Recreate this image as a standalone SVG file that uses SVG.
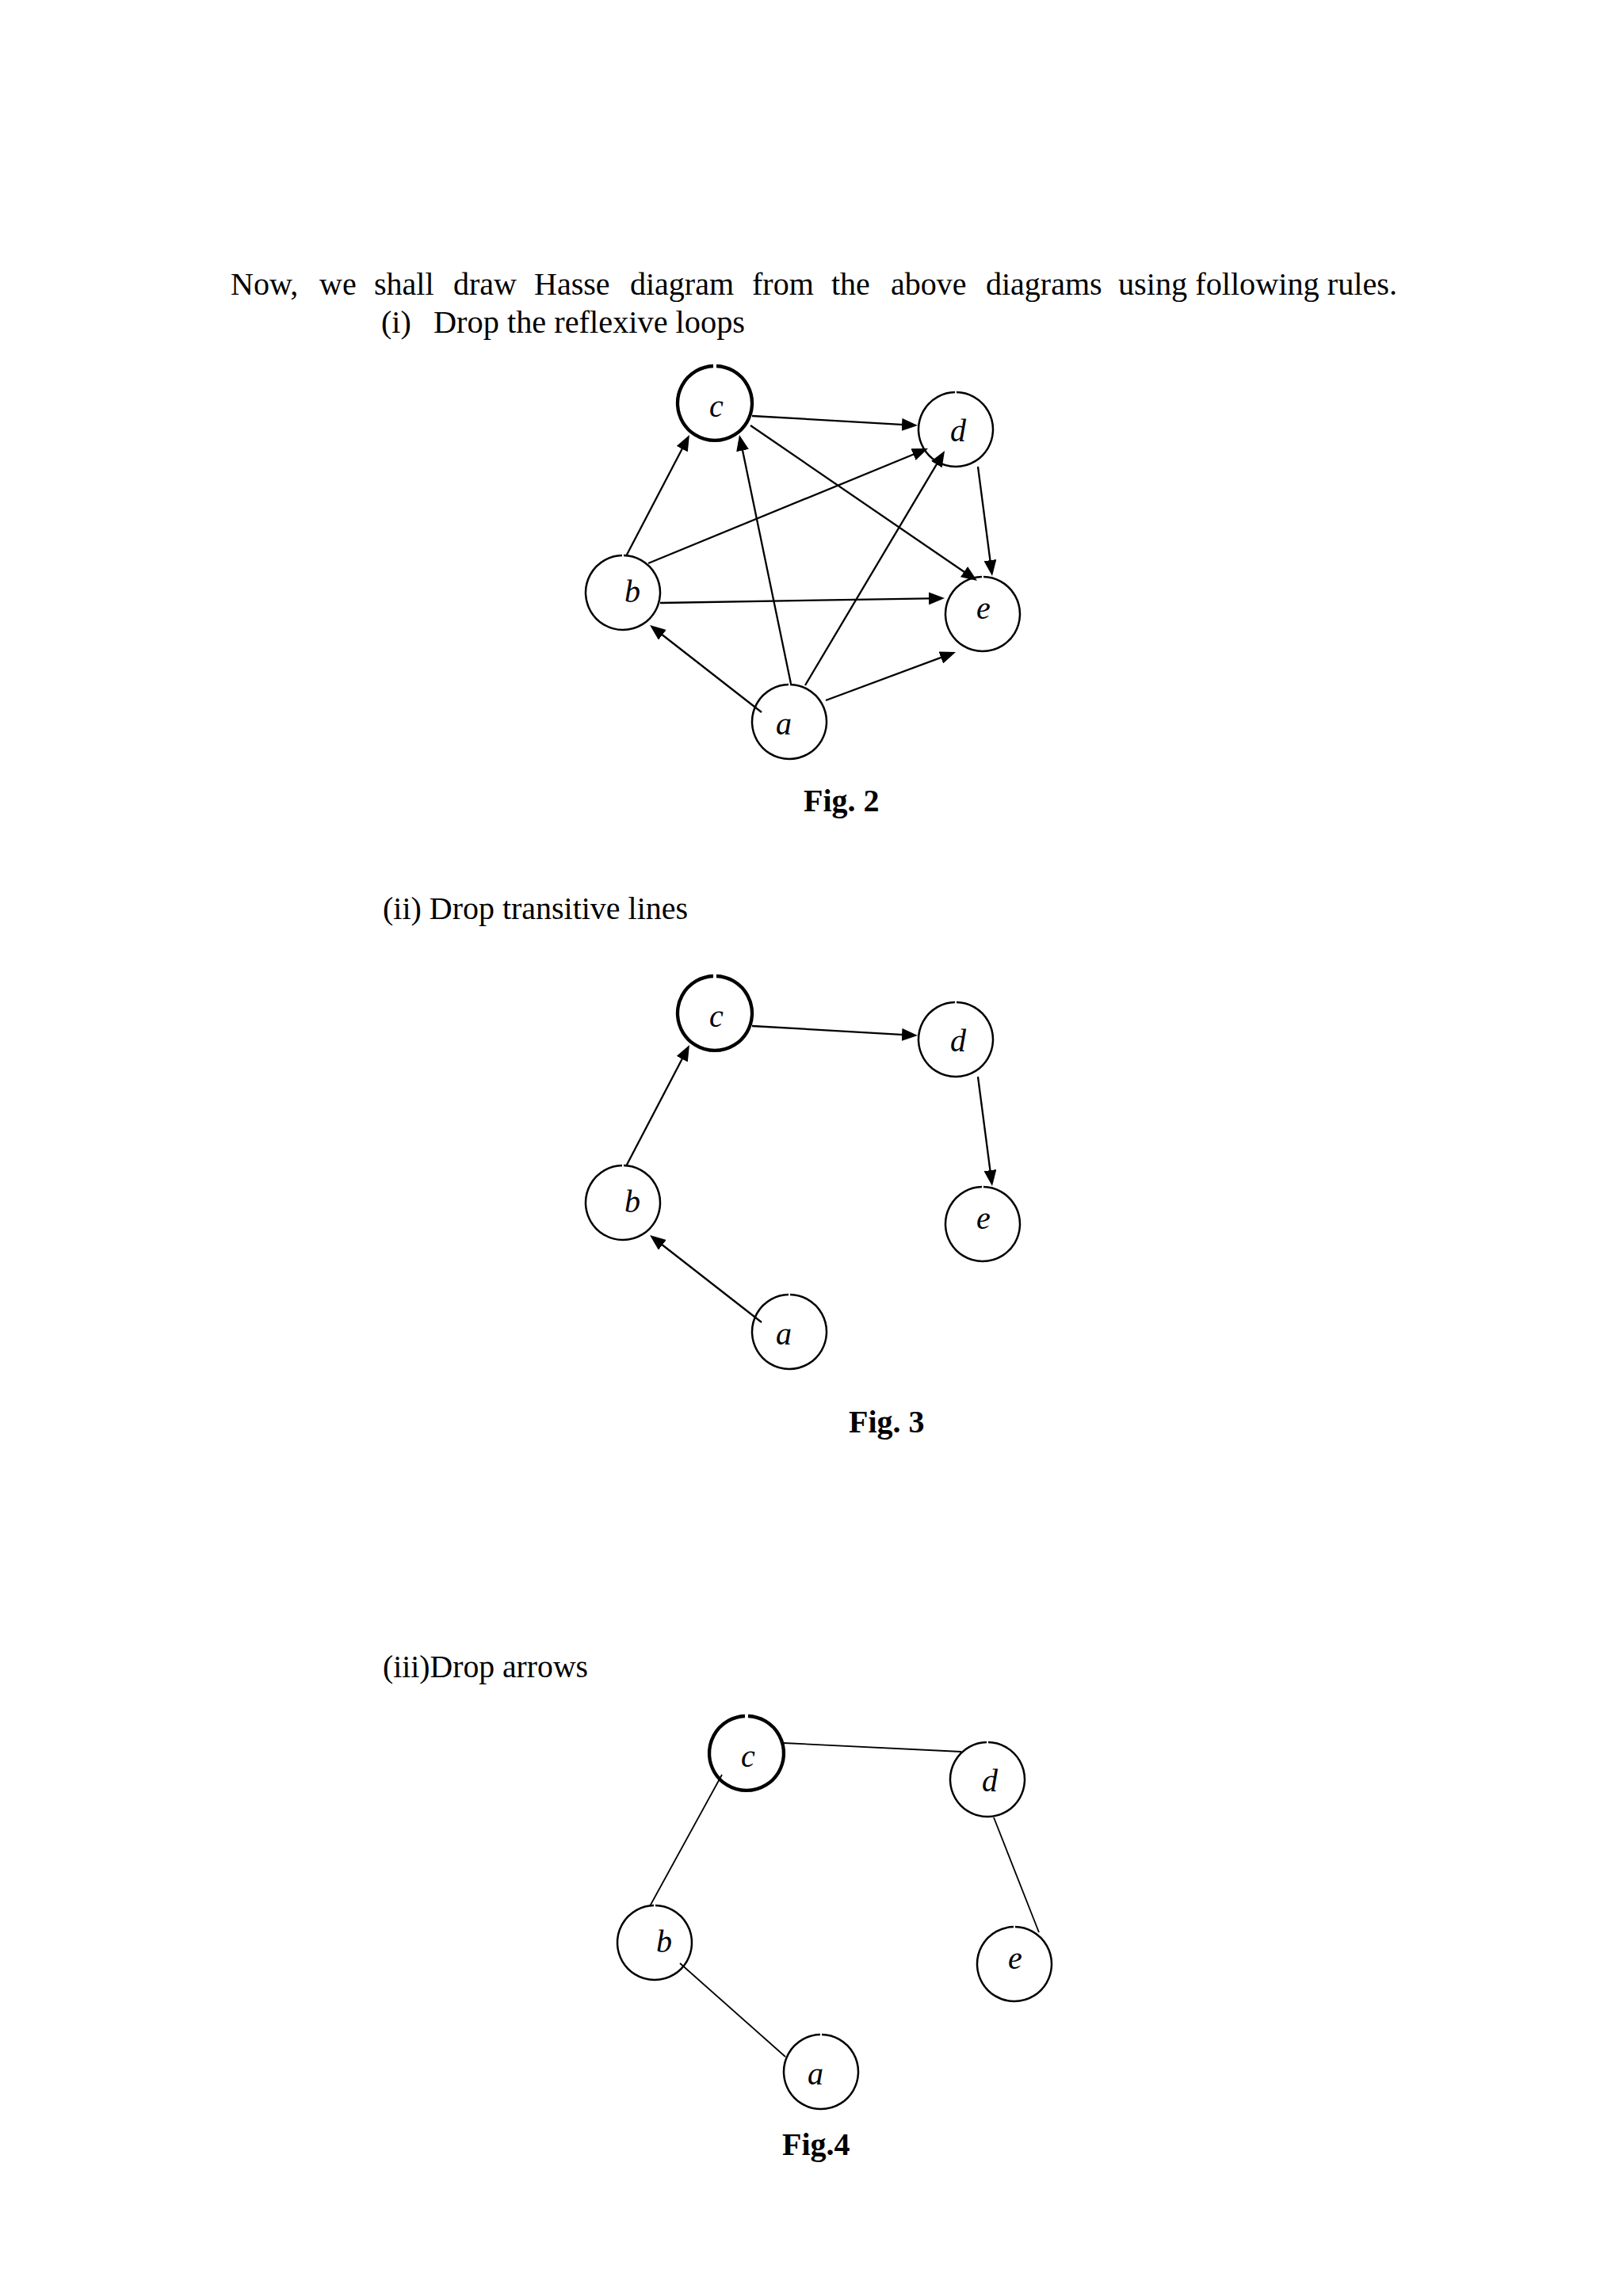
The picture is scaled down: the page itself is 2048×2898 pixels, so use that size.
<svg xmlns="http://www.w3.org/2000/svg" width="2048" height="2898" viewBox="0 0 2048 2898">
<style>
.txt{font-family:"Liberation Serif","Times New Roman",serif;font-size:40px;fill:#000}
.lbl{font-family:"Liberation Serif","Times New Roman",serif;font-size:40px;font-style:italic;fill:#000;text-anchor:middle}
.cap{font-family:"Liberation Serif","Times New Roman",serif;font-size:40px;font-weight:bold;fill:#000}
.node{fill:none;stroke:#000;stroke-width:2.5}
.thick{stroke-width:4.3}
.edge{stroke:#000;stroke-width:2.3;fill:none;marker-end:url(#ah)}
.plain{stroke:#000;stroke-width:1.8;fill:none}
</style>
<defs>
<marker id="ah" markerUnits="userSpaceOnUse" markerWidth="20" markerHeight="16" refX="16" refY="8" orient="auto"><path d="M0,0 L20,8 L0,16 z" fill="#000"/></marker>
</defs>
<rect width="2048" height="2898" fill="#fff"/>

<g id="header">
<text class="txt" y="372"><tspan x="291">Now,</tspan><tspan x="403">we</tspan><tspan x="472">shall</tspan><tspan x="572">draw</tspan><tspan x="674">Hasse</tspan><tspan x="795">diagram</tspan><tspan x="949">from</tspan><tspan x="1049">the</tspan><tspan x="1124">above</tspan><tspan x="1244">diagrams</tspan></text>
<text class="txt" x="1411" y="372" textLength="352" lengthAdjust="spacingAndGlyphs">using following rules.</text>
<text class="txt" x="481" y="420">(i)</text>
<text class="txt" x="547" y="420" textLength="393" lengthAdjust="spacingAndGlyphs">Drop the reflexive loops</text>
<text class="txt" x="483" y="1160" textLength="385" lengthAdjust="spacingAndGlyphs">(ii) Drop transitive lines</text>
<text class="txt" x="483" y="2117" textLength="259" lengthAdjust="spacingAndGlyphs">(iii)Drop arrows</text>
</g>

<!-- Fig. 2 -->
<g id="fig2">
<g id="fig2-connectors">
<path class="edge" d="M949,525 L1154,536.8"/>
<path class="edge" d="M947,537 L1229.7,730.7"/>
<path class="edge" d="M790,702 L868.1,552.5"/>
<path class="edge" d="M998,863 L933.8,552.9"/>
<path class="edge" d="M818,711 L1167.3,567.5"/>
<path class="edge" d="M1016,865 L1190,572.4"/>
<path class="edge" d="M1234,589 L1251.5,723"/>
<path class="edge" d="M833,761 L1188,755.1"/>
<path class="edge" d="M961,899 L823.2,791.5"/>
<path class="edge" d="M1042,884 L1202.3,824.4"/>
</g>
<g id="fig2-c"><path class="node thick" d="M904,462 A47,47 0 1 1 900,462"/><text class="lbl" x="904" y="526">c</text></g>
<g id="fig2-d"><path class="node" d="M1207,495 A47,47 0 1 1 1205,495"/><text class="lbl" x="1209" y="557">d</text></g>
<g id="fig2-b"><path class="node" d="M787,701 A47,47 0 1 1 785,701"/><text class="lbl" x="798" y="760">b</text></g>
<g id="fig2-e"><path class="node" d="M1241,728 A47,47 0 1 1 1239,728"/><text class="lbl" x="1241" y="781">e</text></g>
<g id="fig2-a"><path class="node" d="M997,864 A47,47 0 1 1 995,864"/><text class="lbl" x="989" y="927">a</text></g>
<text class="cap" x="1014" y="1024">Fig. 2</text>
</g>

<!-- Fig. 3 -->
<g id="fig3" transform="translate(0,770)">
<g id="fig3-connectors">
<path class="edge" d="M949,525 L1154,536.8"/>
<path class="edge" d="M1234,589 L1251.5,723"/>
<path class="edge" d="M790,702 L868.1,552.5"/>
<path class="edge" d="M961,899 L823.2,791.5"/>
</g>
<g id="fig3-c"><path class="node thick" d="M904,462 A47,47 0 1 1 900,462"/><text class="lbl" x="904" y="526">c</text></g>
<g id="fig3-d"><path class="node" d="M1207,495 A47,47 0 1 1 1205,495"/><text class="lbl" x="1209" y="557">d</text></g>
<g id="fig3-b"><path class="node" d="M787,701 A47,47 0 1 1 785,701"/><text class="lbl" x="798" y="760">b</text></g>
<g id="fig3-e"><path class="node" d="M1241,728 A47,47 0 1 1 1239,728"/><text class="lbl" x="1241" y="781">e</text></g>
<g id="fig3-a"><path class="node" d="M997,864 A47,47 0 1 1 995,864"/><text class="lbl" x="989" y="927">a</text></g>
</g>
<text class="cap" x="1071" y="1808">Fig. 3</text>

<!-- Fig. 4 -->
<g id="fig4" transform="translate(40,1704)">
<g id="fig4-connectors">
<path class="plain" d="M949,496 L1173,507"/>
<path class="plain" d="M871,536 L780,702"/>
<path class="plain" d="M818,774 L951,892"/>
<path class="plain" d="M1214,590 L1271,735"/>
</g>
<g id="fig4-c"><path class="node thick" d="M904,462 A47,47 0 1 1 900,462"/><text class="lbl" x="904" y="526">c</text></g>
<g id="fig4-d"><path class="node" d="M1207,495 A47,47 0 1 1 1205,495"/><text class="lbl" x="1209" y="557">d</text></g>
<g id="fig4-b"><path class="node" d="M787,701 A47,47 0 1 1 785,701"/><text class="lbl" x="798" y="760">b</text></g>
<g id="fig4-e"><path class="node" d="M1241,728 A47,47 0 1 1 1239,728"/><text class="lbl" x="1241" y="781">e</text></g>
<g id="fig4-a"><path class="node" d="M997,864 A47,47 0 1 1 995,864"/><text class="lbl" x="989" y="927">a</text></g>
</g>
<text class="cap" x="987" y="2720">Fig.4</text>
</svg>
